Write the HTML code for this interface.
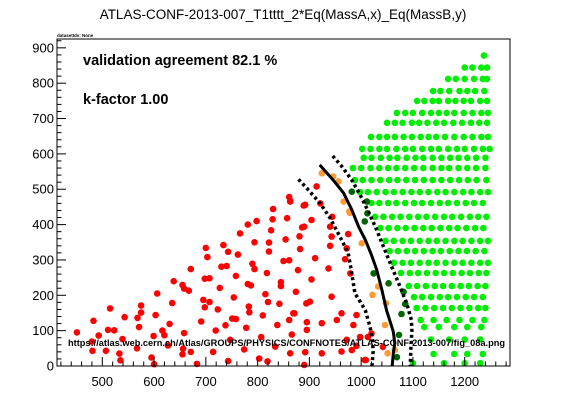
<!DOCTYPE html>
<html><head><meta charset="utf-8"><style>
html,body{margin:0;padding:0;background:#fff;}
svg{display:block;font-family:"Liberation Sans",Arial,sans-serif;}
</style></head><body>
<svg id="chart" width="567" height="407" viewBox="0 0 567 407" xmlns="http://www.w3.org/2000/svg">
<rect x="0" y="0" width="567" height="407" fill="#fff"/>
<text x="283" y="19" font-size="13.5" text-anchor="middle">ATLAS-CONF-2013-007_T1tttt_2*Eq(MassA,x)_Eq(MassB,y)</text>
<text x="57" y="37" font-size="4.5" font-weight="bold">datasetIds: None</text>
<g id="marks"></g>
<g id="axes"></g>
<text x="83" y="65" font-size="14.5" font-weight="bold">validation agreement 82.1 %</text>
<text x="83" y="104" font-size="14.5" font-weight="bold">k-factor 1.00</text>
<text x="68" y="346" font-size="9.6" font-weight="bold" textLength="437" lengthAdjust="spacingAndGlyphs">https://atlas.web.cern.ch/Atlas/GROUPS/PHYSICS/CONFNOTES/ATLAS-CONF-2013-007/fig_08a.png</text>
</svg>
<script>
const xTicks=[500,600,700,800,900,1000,1100,1200];
const yTicks=[0,100,200,300,400,500,600,700,800,900];
const redPts=[[451,95],[483,128],[480,69],[481,43],[493,86],[507,43],[511,102],[515,163],[523,101],[533,35],[535,16],[539,76],[543,138],[567,50],[568,136],[571,110],[575,151],[575,171],[595,24],[599,85],[600,5],[603,144],[606,205],[616,100],[620,87],[627,58],[630,119],[635,178],[638,240],[655,229],[656,49],[658,219],[655,33],[658,93],[667,213],[671,40],[671,274],[683,6],[691,126],[695,187],[698,247],[698,166],[700,334],[703,308],[707,248],[707,181],[714,40],[719,100],[723,160],[727,221],[730,281],[734,342],[738,115],[740,283],[743,323],[743,14],[747,74],[751,134],[754,194],[758,255],[758,133],[762,315],[766,375],[774,47],[778,108],[781,400],[781,232],[783,168],[784,152],[787,228],[790,289],[794,274],[794,350],[798,410],[803,21],[807,82],[810,143],[815,203],[818,263],[820,181],[819,13],[822,349],[822,324],[826,384],[829,415],[830,444],[834,55],[838,116],[842,176],[845,237],[845,226],[850,297],[854,358],[857,418],[861,478],[863,467],[861,299],[861,130],[863,36],[866,89],[871,149],[874,210],[878,271],[881,367],[882,331],[886,392],[889,454],[890,394],[890,3],[894,177],[895,124],[914,508],[863,465],[892,456],[921,460],[904,413],[940,394],[943,366],[975,373],[940,340],[972,333],[911,305],[937,276],[969,302],[979,262],[904,245],[943,196],[901,182],[869,149],[953,130],[924,121],[985,116],[895,102],[962,149],[991,144],[1020,92],[924,36],[962,41],[1007,17],[892,39],[991,57],[972,74],[1013,82],[1009,17],[982,45],[998,82],[1042,54],[944,422]];
const orangePts=[[924,545],[956,522],[966,465],[977,437],[1001,347],[1022,201],[1033,225],[1048,177],[1046,116],[1051,36],[1065,45],[946,536],[978,433]];
const darkGreenPts=[[982,493],[1011,465],[1012,432],[1007,409],[1024,262],[1053,234],[1082,210],[1085,175],[1078,147],[1073,88],[1069,25]];
const greenRowY=[878,844,812,778,750,716,688,648,614,589,560,526,492,461,422,390,354,325,292,263,226,195,164,130,110,75,34,8];
const greenRowX=[
[1237],
[1200,1215,1232,1243],
[1168,1183,1200,1218,1235,1243],
[1139,1153,1170,1190,1205,1220,1238],
[1108,1122,1138,1150,1168,1182,1198,1212,1230,1243],
[1069,1085,1100,1118,1135,1150,1165,1180,1198,1215,1232,1245],
[1050,1065,1080,1098,1112,1128,1145,1160,1178,1195,1212,1228,1243],
[1019,1035,1050,1065,1082,1098,1115,1130,1145,1162,1180,1198,1215,1232,1245],
[1002,1018,1035,1050,1068,1085,1100,1118,1135,1150,1168,1185,1200,1218,1235,1248],
[1005,1020,1038,1055,1070,1088,1105,1120,1138,1155,1172,1188,1205,1222,1240],
[984,1000,1018,1035,1052,1068,1085,1102,1120,1138,1155,1170,1188,1205,1222,1240],
[988,1003,1020,1037,1054,1070,1087,1104,1121,1138,1155,1172,1189,1206,1223,1242],
[998,1013,1030,1047,1063,1080,1097,1113,1130,1147,1163,1180,1197,1213,1230,1245],
[1020,1035,1052,1068,1085,1102,1118,1135,1152,1168,1185,1202,1218,1235],
[1027,1043,1060,1076,1093,1110,1126,1143,1160,1176,1193,1210,1226,1242],
[1037,1053,1070,1086,1103,1120,1136,1153,1170,1186,1203,1220,1236],
[1047,1063,1080,1096,1113,1130,1146,1163,1180,1196,1213,1230,1245],
[1055,1071,1088,1104,1121,1138,1154,1171,1188,1204,1221,1238],
[1063,1080,1096,1113,1130,1146,1163,1180,1196,1213,1230,1245],
[1077,1094,1110,1127,1144,1160,1177,1194,1210,1227,1242],
[1092,1108,1125,1142,1158,1175,1192,1208,1225,1240],
[1102,1118,1135,1152,1168,1185,1202,1218,1235],
[1107,1124,1141,1158,1175,1192,1209,1226,1240],
[1115,1140,1165,1190,1215,1238],
[1122,1150,1180,1205,1232],
[1135,1170,1200,1230],
[1140,1180,1205,1235],
[1100,1160,1200,1230]];
const solidLine=[[920,569],[946,526],[966,489],[982,442],[995,394],[1008,357],[1020,314],[1030,272],[1040,215],[1049,158],[1062,97],[1065,64],[1062,36],[1060,0]];
const upperDotted=[[945,594],[963,564],[982,526],[998,484],[1014,437],[1030,385],[1043,338],[1059,281],[1075,225],[1088,177],[1097,130],[1098,100],[1096,50],[1095,0]];
const lowerDotted=[[879,528],[898,498],[921,460],[940,418],[959,366],[975,319],[982,262],[988,206],[1008,158],[1017,111],[1022,74],[1023,40],[1021,0]];

const X0=57,X1=510,Y0=366,Y1=39;
const xMin=412.5,xMax=1287.5,yMin=0,yMax=925;
const sx=v=>X0+(v-xMin)/(xMax-xMin)*(X1-X0);
const sy=v=>Y0-(v-yMin)/(yMax-yMin)*(Y0-Y1);
const NS='http://www.w3.org/2000/svg';
const marks=document.getElementById('marks');
const axes=document.getElementById('axes');
function mk(tag,parent){const e=document.createElementNS(NS,tag);parent.appendChild(e);return e;}
function dot(p,color,name){
  const c=mk('circle',marks);
  c.setAttribute('cx',sx(p[0]).toFixed(1));c.setAttribute('cy',sy(p[1]).toFixed(1));
  c.setAttribute('r','3.3');c.setAttribute('fill',color);
  
  
}
redPts.forEach(p=>dot(p,'#ff0000','excluded-point'));
greenRowY.forEach((y,i)=>greenRowX[i].forEach(x=>dot([x,y],'#00ee00','allowed-point')));
orangePts.forEach(p=>dot(p,'#ff9933','borderline-excluded-point'));
darkGreenPts.forEach(p=>dot(p,'#006600','borderline-allowed-point'));
function line(pts,dash,w,name){
  const l=mk('polyline',marks);
  l.setAttribute('points',pts.map(p=>sx(p[0]).toFixed(1)+','+sy(p[1]).toFixed(1)).join(' '));
  l.setAttribute('fill','none');l.setAttribute('stroke','#000');l.setAttribute('stroke-width',w);
  if(dash)l.setAttribute('stroke-dasharray',dash);
  
  
}
line(solidLine,null,3,'expected-limit-line');
line(upperDotted,'3,3',3.5,'upper-uncertainty-line');
line(lowerDotted,'3,3',3.5,'lower-uncertainty-line');
// frame
const fr=mk('rect',axes);
fr.setAttribute('x',X0);fr.setAttribute('y',Y1);fr.setAttribute('width',X1-X0);fr.setAttribute('height',Y0-Y1);
fr.setAttribute('fill','none');fr.setAttribute('stroke','#000');fr.setAttribute('stroke-width','1');


function tick(x1,y1,x2,y2,name){const t=mk('line',axes);t.setAttribute('x1',x1);t.setAttribute('y1',y1);t.setAttribute('x2',x2);t.setAttribute('y2',y2);t.setAttribute('stroke','#000');t.setAttribute('stroke-width','1');

}
for(let v=420;v<=1280;v+=20){const major=(v%100===0);tick(sx(v),Y0,sx(v),Y0-(major?9:4.5),major?'x-major-tick':'x-minor-tick');}
for(let v=0;v<=920;v+=20){const major=(v%100===0);tick(X0,sy(v),X0+(major?9:4.5),sy(v),major?'y-major-tick':'y-minor-tick');}
xTicks.forEach(v=>{const t=mk('text',axes);t.setAttribute('x',sx(v));t.setAttribute('y',Y0+20);t.setAttribute('font-size','13');t.setAttribute('text-anchor','middle');t.textContent=v;

});
yTicks.forEach(v=>{const t=mk('text',axes);t.setAttribute('x',X0-3);t.setAttribute('y',sy(v)+4.5);t.setAttribute('font-size','13');t.setAttribute('text-anchor','end');t.textContent=v;

});
</script>
</body></html>
